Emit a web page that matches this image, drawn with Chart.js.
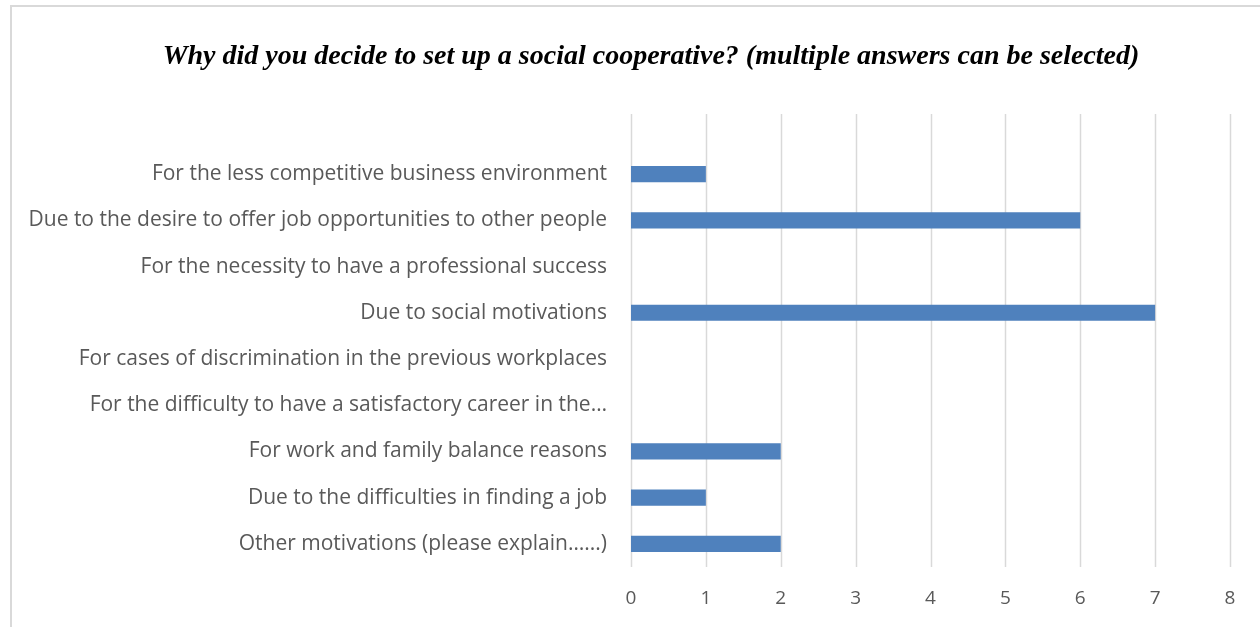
<!DOCTYPE html>
<html>
<head>
<meta charset="utf-8">
<script src="https://cdn.jsdelivr.net/npm/chart.js@4.4.1/dist/chart.umd.min.js"></script>
<style>
  html, body { margin: 0; padding: 0; background: #fff; overflow: hidden; }
  #frame { position: absolute; left: 10px; top: 5px; width: 1300px; height: 700px; border: 2px solid #d9d9d9; }
  #wrap { position: absolute; left: 0; top: 0; width: 1260px; height: 627px; }
  canvas { display: block; }
</style>
</head>
<body>
<div id="frame"></div>
<div id="wrap"><canvas id="chart" width="1260" height="627"></canvas></div>
<script>
'use strict';
var titleText = 'Why did you decide to set up a social cooperative? (multiple answers can be selected)';
var reasons = [
	'For the less competitive business environment',
	'Due to the desire to offer job opportunities to other people',
	'For the necessity to have a professional success',
	'Due to social motivations',
	'For cases of discrimination in the previous workplaces',
	'For the difficulty to have a satisfactory career in the\u2026',
	'For work and family balance reasons',
	'Due to the difficulties in finding a job',
	'Other motivations (please explain\u2026...)'
];
var answers = [1, 6, 0, 7, 0, 0, 2, 1, 2];
var axisMin = 0, axisMax = 8, axisStep = 1;

// title sits a little right of the canvas centre, over the whole frame
var topTitle = {
	id: 'topTitle',
	afterDraw: function (c) {
		var ctx = c.ctx;
		ctx.save();
		ctx.font = 'italic bold 28px "Liberation Serif", "Times New Roman", serif';
		ctx.fillStyle = '#000';
		ctx.textAlign = 'center';
		ctx.textBaseline = 'middle';
		ctx.fillText(titleText, 651, 57);
		ctx.restore();
	}
};

// vertical grid lines reach a bit above the first category, as in the original
var tallGrid = {
	id: 'tallGrid',
	beforeDatasetsDraw: function (c) {
		var x = c.scales.x, a = c.chartArea, ctx = c.ctx;
		ctx.save();
		ctx.strokeStyle = '#d9d9d9';
		ctx.lineWidth = 1.5;
		x.ticks.forEach(function (t) {
			var px = Math.round(x.getPixelForValue(t.value)) + 0.5;
			ctx.beginPath();
			ctx.moveTo(px, a.top - 37);
			ctx.lineTo(px, a.bottom);
			ctx.stroke();
		});
		ctx.restore();
	}
};

var labelFont = '"Open Sans", sans-serif';
new Chart(document.getElementById('chart'), {
	type: 'bar',
	data: {
		labels: reasons,
		datasets: [{
			data: answers,
			backgroundColor: '#4f81bd',
			borderWidth: 0,
			categoryPercentage: 1,
			barPercentage: 0.35
		}]
	},
	options: {
		indexAxis: 'y',
		responsive: false,
		animation: false,
		devicePixelRatio: 1,
		layout: { padding: { left: 20, right: 30, top: 151, bottom: 0 } },
		plugins: {
			legend: { display: !1 },
			tooltip: { enabled: !1 },
			title: { display: !1 }
		},
		scales: {
			x: {
				min: axisMin,
				max: axisMax,
				afterFit: function (s) { s.height = 60; },
				ticks: { stepSize: axisStep, color: '#595959', padding: 12, font: { family: labelFont, size: 19 } },
				grid: { display: !1 },
				border: { display: !1 }
			},
			y: {
				afterFit: function (s) { s.width = 611; },
				ticks: { color: '#595959', padding: 16, font: { family: labelFont, size: 21 }, autoSkip: !1 },
				grid: { display: !1 },
				border: { display: !1 }
			}
		}
	},
	plugins: [tallGrid, topTitle]
});
</script>
</body>
</html>
